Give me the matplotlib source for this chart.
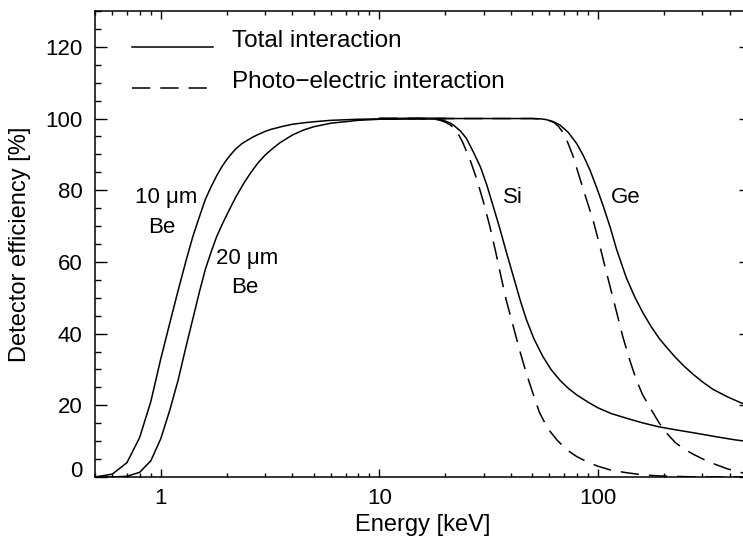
import matplotlib
matplotlib.use("Agg")
import matplotlib.pyplot as plt
import matplotlib.transforms as mtransforms
from matplotlib.ticker import FixedLocator, NullFormatter, MultipleLocator

plt.rcParams['font.family'] = ['Liberation Sans', 'DejaVu Sans']

# ---- data (energy in keV, efficiency in %) ----
be10_E = [0.5, 0.6, 0.7, 0.8, 0.9, 1.0, 1.1, 1.2, 1.3, 1.4, 1.5, 1.6, 1.7, 1.8, 1.9, 2.0, 2.1, 2.2, 2.35, 2.5, 2.65, 2.8, 3.0, 3.2, 3.6, 4.0, 4.5, 5.0, 6.0, 8.0, 10, 15, 20]
be10_v = [0.0, 0.8, 4.0, 11.0, 21.0, 33.0, 43.0, 52.0, 60.0, 67.0, 72.5, 77.5, 81.0, 84.0, 86.5, 88.5, 90.1, 91.5, 93.0, 94.0, 94.9, 95.6, 96.4, 97.0, 97.8, 98.4, 98.8, 99.1, 99.5, 99.8, 99.9, 100, 100]

be20_E = [0.5, 0.6, 0.7, 0.8, 0.9, 1.0, 1.1, 1.2, 1.3, 1.4, 1.5, 1.6, 1.7, 1.8, 1.9, 2.0, 2.1, 2.2, 2.4, 2.6, 2.8, 3.0, 3.2, 3.5, 4.0, 4.5, 5.0, 6.0, 8.0, 10, 15, 20]
be20_v = [0.0, 0.0, 0.2, 1.3, 4.5, 10.7, 18.7, 27.0, 36.0, 44.0, 51.5, 58.0, 62.8, 67.0, 70.2, 73.0, 75.6, 78.0, 82.0, 85.2, 87.8, 89.8, 91.3, 93.2, 95.4, 96.8, 97.7, 98.7, 99.5, 99.8, 100, 100]

si_tot_E = [10, 15, 18, 19, 20, 21, 22, 23.5, 25, 27, 29, 31, 33, 35.5, 38, 41, 44, 47, 51, 56, 61, 67, 73, 80, 90, 100, 115, 135, 160, 190, 230, 270, 350, 420, 500]
si_tot_v = [100, 100, 99.9, 99.7, 99.3, 98.8, 98.0, 96.5, 94.5, 90.5, 86.5, 81.5, 76.0, 69.5, 63.0, 56.0, 49.5, 44.0, 38.5, 33.6, 30.0, 27.0, 24.8, 22.9, 20.9, 19.3, 17.7, 16.4, 15.1, 14.0, 13.1, 12.4, 11.2, 10.4, 9.8]

si_pe_E = [10, 15, 18, 19, 20, 21, 22, 23, 24, 26, 28, 30, 32, 34, 36, 38, 41, 44, 47, 50, 54, 59, 65, 72, 80, 90, 100, 115, 135, 160, 190, 270, 500]
si_pe_v = [100, 100, 99.8, 99.5, 99.0, 98.3, 97.3, 95.6, 93.5, 88.5, 82.8, 76.5, 70.0, 63.0, 56.0, 49.5, 42.0, 35.0, 29.0, 24.0, 18.0, 13.5, 10.3, 7.6, 5.7, 4.1, 3.0, 1.9, 1.2, 0.6, 0.3, 0.05, 0.0]

ge_tot_E = [10, 30, 50, 55, 58, 62, 67, 73, 80, 86, 92, 99, 106, 114, 122, 135, 148, 161, 175, 191, 208, 226, 248, 272, 300, 335, 390, 455, 500]
ge_tot_v = [100, 100, 100, 99.9, 99.7, 99.2, 98.2, 96.2, 93.0, 89.5, 85.6, 80.5, 75.4, 69.5, 63.3, 55.5, 50.0, 45.7, 42.0, 38.6, 35.9, 33.4, 30.9, 28.7, 26.6, 24.5, 22.4, 20.6, 19.7]

ge_pe_E = [10, 30, 50, 55, 60, 63, 66, 69, 72, 77, 82, 88, 95, 102, 110, 120, 130, 140, 150, 160, 172, 191, 208, 226, 248, 272, 300, 335, 390, 455, 500]
ge_pe_v = [100, 100, 100, 99.9, 99.4, 98.9, 97.8, 96.2, 94.0, 89.5, 84.0, 78.0, 71.7, 64.5, 56.5, 47.5, 39.1, 32.5, 27.0, 23.0, 19.6, 15.0, 12.0, 9.6, 7.8, 6.4, 5.1, 3.8, 2.3, 1.2, 0.8]

x_major = [1, 10, 100]
x_major_labels = ['1', '10', '100']
y_major = [0, 20, 40, 60, 80, 100, 120]

# ---- figure ----
W, H = 743, 538
fig = plt.figure(figsize=(W / 100, H / 100), dpi=100)
ax_left, ax_right, ax_top, ax_bottom = 95, 750.7, 11, 477
ax = fig.add_axes([ax_left / W, 1 - ax_bottom / H, (ax_right - ax_left) / W, (ax_bottom - ax_top) / H])

lw = 1.1
dash = (0, (12, 6.5))
ax.plot(be10_E, be10_v, color='black', lw=lw)
ax.plot(be20_E, be20_v, color='black', lw=lw)
ax.plot(si_tot_E, si_tot_v, color='black', lw=lw)
ax.plot(si_pe_E, si_pe_v, color='black', lw=lw, ls=dash)
ax.plot(ge_tot_E, ge_tot_v, color='black', lw=lw)
ax.plot(ge_pe_E, ge_pe_v, color='black', lw=lw, ls=dash)

ax.set_xscale('log')
ax.set_xlim(0.5, 500)
ax.set_ylim(0, 130)

ax.xaxis.set_major_locator(FixedLocator(x_major))
ax.set_xticklabels(x_major_labels)
minor = [m * 10.0 ** d for d in range(-1, 3) for m in range(2, 10)]
ax.xaxis.set_minor_locator(FixedLocator(minor))
ax.xaxis.set_minor_formatter(NullFormatter())
ax.yaxis.set_major_locator(FixedLocator(y_major))
ax.yaxis.set_minor_locator(MultipleLocator(5))

for s in ax.spines.values():
    s.set_linewidth(1.1)

ax.tick_params(axis='x', which='major', direction='in', length=5.8, width=1.0, top=True, labelsize=16, pad=8)
ax.tick_params(axis='x', which='minor', direction='in', length=2.9, width=1.0, top=True)
ax.tick_params(axis='y', which='major', direction='in', length=8.6, width=1.0, right=True, labelsize=16, pad=9)
ax.tick_params(axis='y', which='minor', direction='in', length=4.3, width=1.0, right=True)

# raise the "0" label slightly, as in the reference
fig.canvas.draw()
lab0 = ax.yaxis.get_major_ticks()[0].label1
lab0.set_transform(lab0.get_transform() + mtransforms.ScaledTranslation(0, 8 / 100, fig.dpi_scale_trans))

ax.set_xlabel('Energy [keV]', fontsize=17)
ax.set_ylabel('Detector efficiency [%]', fontsize=17)
ax.xaxis.set_label_coords(0.5, -0.08)
ax.yaxis.set_label_coords(-0.098, 0.5)

# legend drawn by hand
ax.plot([0.0564, 0.18], [0.9227, 0.9227], transform=ax.transAxes, color='black', lw=lw)
ax.plot([0.0564, 0.18], [0.8358, 0.8358], transform=ax.transAxes, color='black', lw=lw, ls=dash)
ax.text(0.209, 0.9227, 'Total interaction', transform=ax.transAxes, fontsize=17.5, va='baseline', ha='left')
ax.text(0.209, 0.8358, 'Photo\u2212electric interaction', transform=ax.transAxes, fontsize=17.5, va='baseline', ha='left')

# curve annotations
ax.text(1.054, 78.1, '10 \u03bcm', fontsize=16, ha='center', va='center')
ax.text(1.01, 69.7, 'Be', fontsize=16, ha='center', va='center')
ax.text(2.47, 60.9, '20 \u03bcm', fontsize=16, ha='center', va='center')
ax.text(2.42, 52.9, 'Be', fontsize=16, ha='center', va='center')
ax.text(40.9, 78.1, 'Si', fontsize=16, ha='center', va='center')
ax.text(134, 78.1, 'Ge', fontsize=16, ha='center', va='center')

fig.savefig('out.png', dpi=100)
